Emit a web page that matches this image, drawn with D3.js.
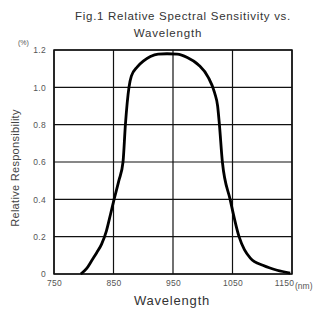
<!DOCTYPE html>
<html>
<head>
<meta charset="utf-8">
<script src="https://cdn.jsdelivr.net/npm/d3@7"></script>
<style>
  body { margin: 0; background: #fff; }
  text { font-family: "Liberation Sans", Arial, sans-serif; }
</style>
</head>
<body>
<div id="chart"></div>
<script>
// curve
var wavelengths = [795, 805, 814, 822, 830, 838, 845, 851, 859, 866, 870, 876, 880, 890, 900, 912, 925, 940, 957, 974, 993, 1009, 1020, 1025, 1028, 1033, 1046, 1061, 1070, 1080, 1102, 1125, 1147];
var sensitivity = [0, 0.03, 0.075, 0.115, 0.16, 0.23, 0.32, 0.4, 0.5, 0.6, 0.8, 1.0, 1.06, 1.11, 1.14, 1.165, 1.178, 1.18, 1.178, 1.16, 1.12, 1.055, 0.97, 0.9, 0.8, 0.6, 0.4, 0.2, 0.13, 0.085, 0.045, 0.02, 0.005];
var xTicks = [750, 850, 950, 1050, 1150];
var yTicks = [0, 0.2, 0.4, 0.6, 0.8, 1.0, 1.2];

var svgWidth = 327;
var svgHeight = 315;
var margin = { top: 50, right: 35, bottom: 41, left: 54 };
var width = svgWidth - margin.left - margin.right;
var height = svgHeight - margin.top - margin.bottom;

var svg = d3.select("#chart")
  .append("svg")
  .attr("width", svgWidth)
  .attr("height", svgHeight);

var chartGroup = svg.append("g")
  .attr("transform", `translate(${margin.left}, ${margin.top})`);

var xScale = d3.scaleLinear().domain([750, 1150]).range([0, width]);
var yScale = d3.scaleLinear().domain([0, 1.2]).range([height, 0]);

// grid
chartGroup.selectAll(".hgrid")
  .data(yTicks)
  .enter()
  .append("line")
  .attr("x1", 0).attr("x2", width)
  .attr("y1", d => yScale(d)).attr("y2", d => yScale(d))
  .attr("stroke", "#111").attr("stroke-width", 1.2);

chartGroup.selectAll(".vgrid")
  .data(xTicks)
  .enter()
  .append("line")
  .attr("y1", 0).attr("y2", height)
  .attr("x1", d => xScale(d)).attr("x2", d => xScale(d))
  .attr("stroke", "#111").attr("stroke-width", 1.2);

chartGroup.append("rect")
  .attr("width", width).attr("height", height)
  .attr("fill", "none").attr("stroke", "#111").attr("stroke-width", 1.5);

// axes, tick labels only
var bottomAxis = d3.axisBottom(xScale).tickValues(xTicks).tickSize(0).tickPadding(6).tickFormat(d3.format("d"));
var leftAxis = d3.axisLeft(yScale).tickValues(yTicks).tickSize(0).tickPadding(8)
  .tickFormat(d => d === 0 ? "0" : d3.format(".1f")(d));

var xAxis = chartGroup.append("g")
  .attr("transform", `translate(0, ${height})`)
  .call(bottomAxis);
var yAxis = chartGroup.append("g").call(leftAxis);

[xAxis, yAxis].forEach(function(a) {
  a.select(".domain").remove();
  a.selectAll("text").attr("fill", "#555").style("font-size", "8.5px")
    .style("letter-spacing", "0.3px")
    .style("font-family", "Liberation Sans, Arial, sans-serif");
});
// last x label sits a little left, with the unit after it
xAxis.selectAll(".tick").filter(d => d === 1150).select("text").attr("dx", "-8px");

chartGroup.append("text")
  .attr("x", xScale(1150) + 3).attr("y", height + 15)
  .attr("fill", "#555").style("font-size", "8.5px")
  .text("(nm)");

// curve
var line = d3.line()
  .x((d, i) => xScale(wavelengths[i]))
  .y(d => yScale(d))
  .curve(d3.curveMonotoneX);

chartGroup.append("path")
  .datum(sensitivity)
  .attr("d", line)
  .attr("fill", "none")
  .attr("stroke", "#000")
  .attr("stroke-width", 2.8)
  .attr("stroke-linejoin", "round");

// labels
svg.append("text")
  .attr("x", 183).attr("y", 20)
  .attr("text-anchor", "middle")
  .attr("fill", "#333").style("font-size", "11.5px")
  .style("letter-spacing", "0.7px")
  .text("Fig.1 Relative Spectral Sensitivity vs.");
svg.append("text")
  .attr("x", 168).attr("y", 37)
  .attr("text-anchor", "middle")
  .attr("fill", "#333").style("font-size", "11.5px")
  .style("letter-spacing", "0.8px")
  .text("Wavelength");

svg.append("text")
  .attr("x", 18).attr("y", 45)
  .attr("fill", "#555").style("font-size", "7px")
  .text("(%)");

svg.append("text")
  .attr("transform", "translate(19, 168) rotate(-90)")
  .attr("text-anchor", "middle")
  .attr("fill", "#444").style("font-size", "11px")
  .style("letter-spacing", "0.3px")
  .text("Relative Responsibility");

svg.append("text")
  .attr("x", 172).attr("y", 305)
  .attr("text-anchor", "middle")
  .attr("fill", "#333").style("font-size", "13px")
  .style("letter-spacing", "0.8px")
  .text("Wavelength");
</script>
</body>
</html>
